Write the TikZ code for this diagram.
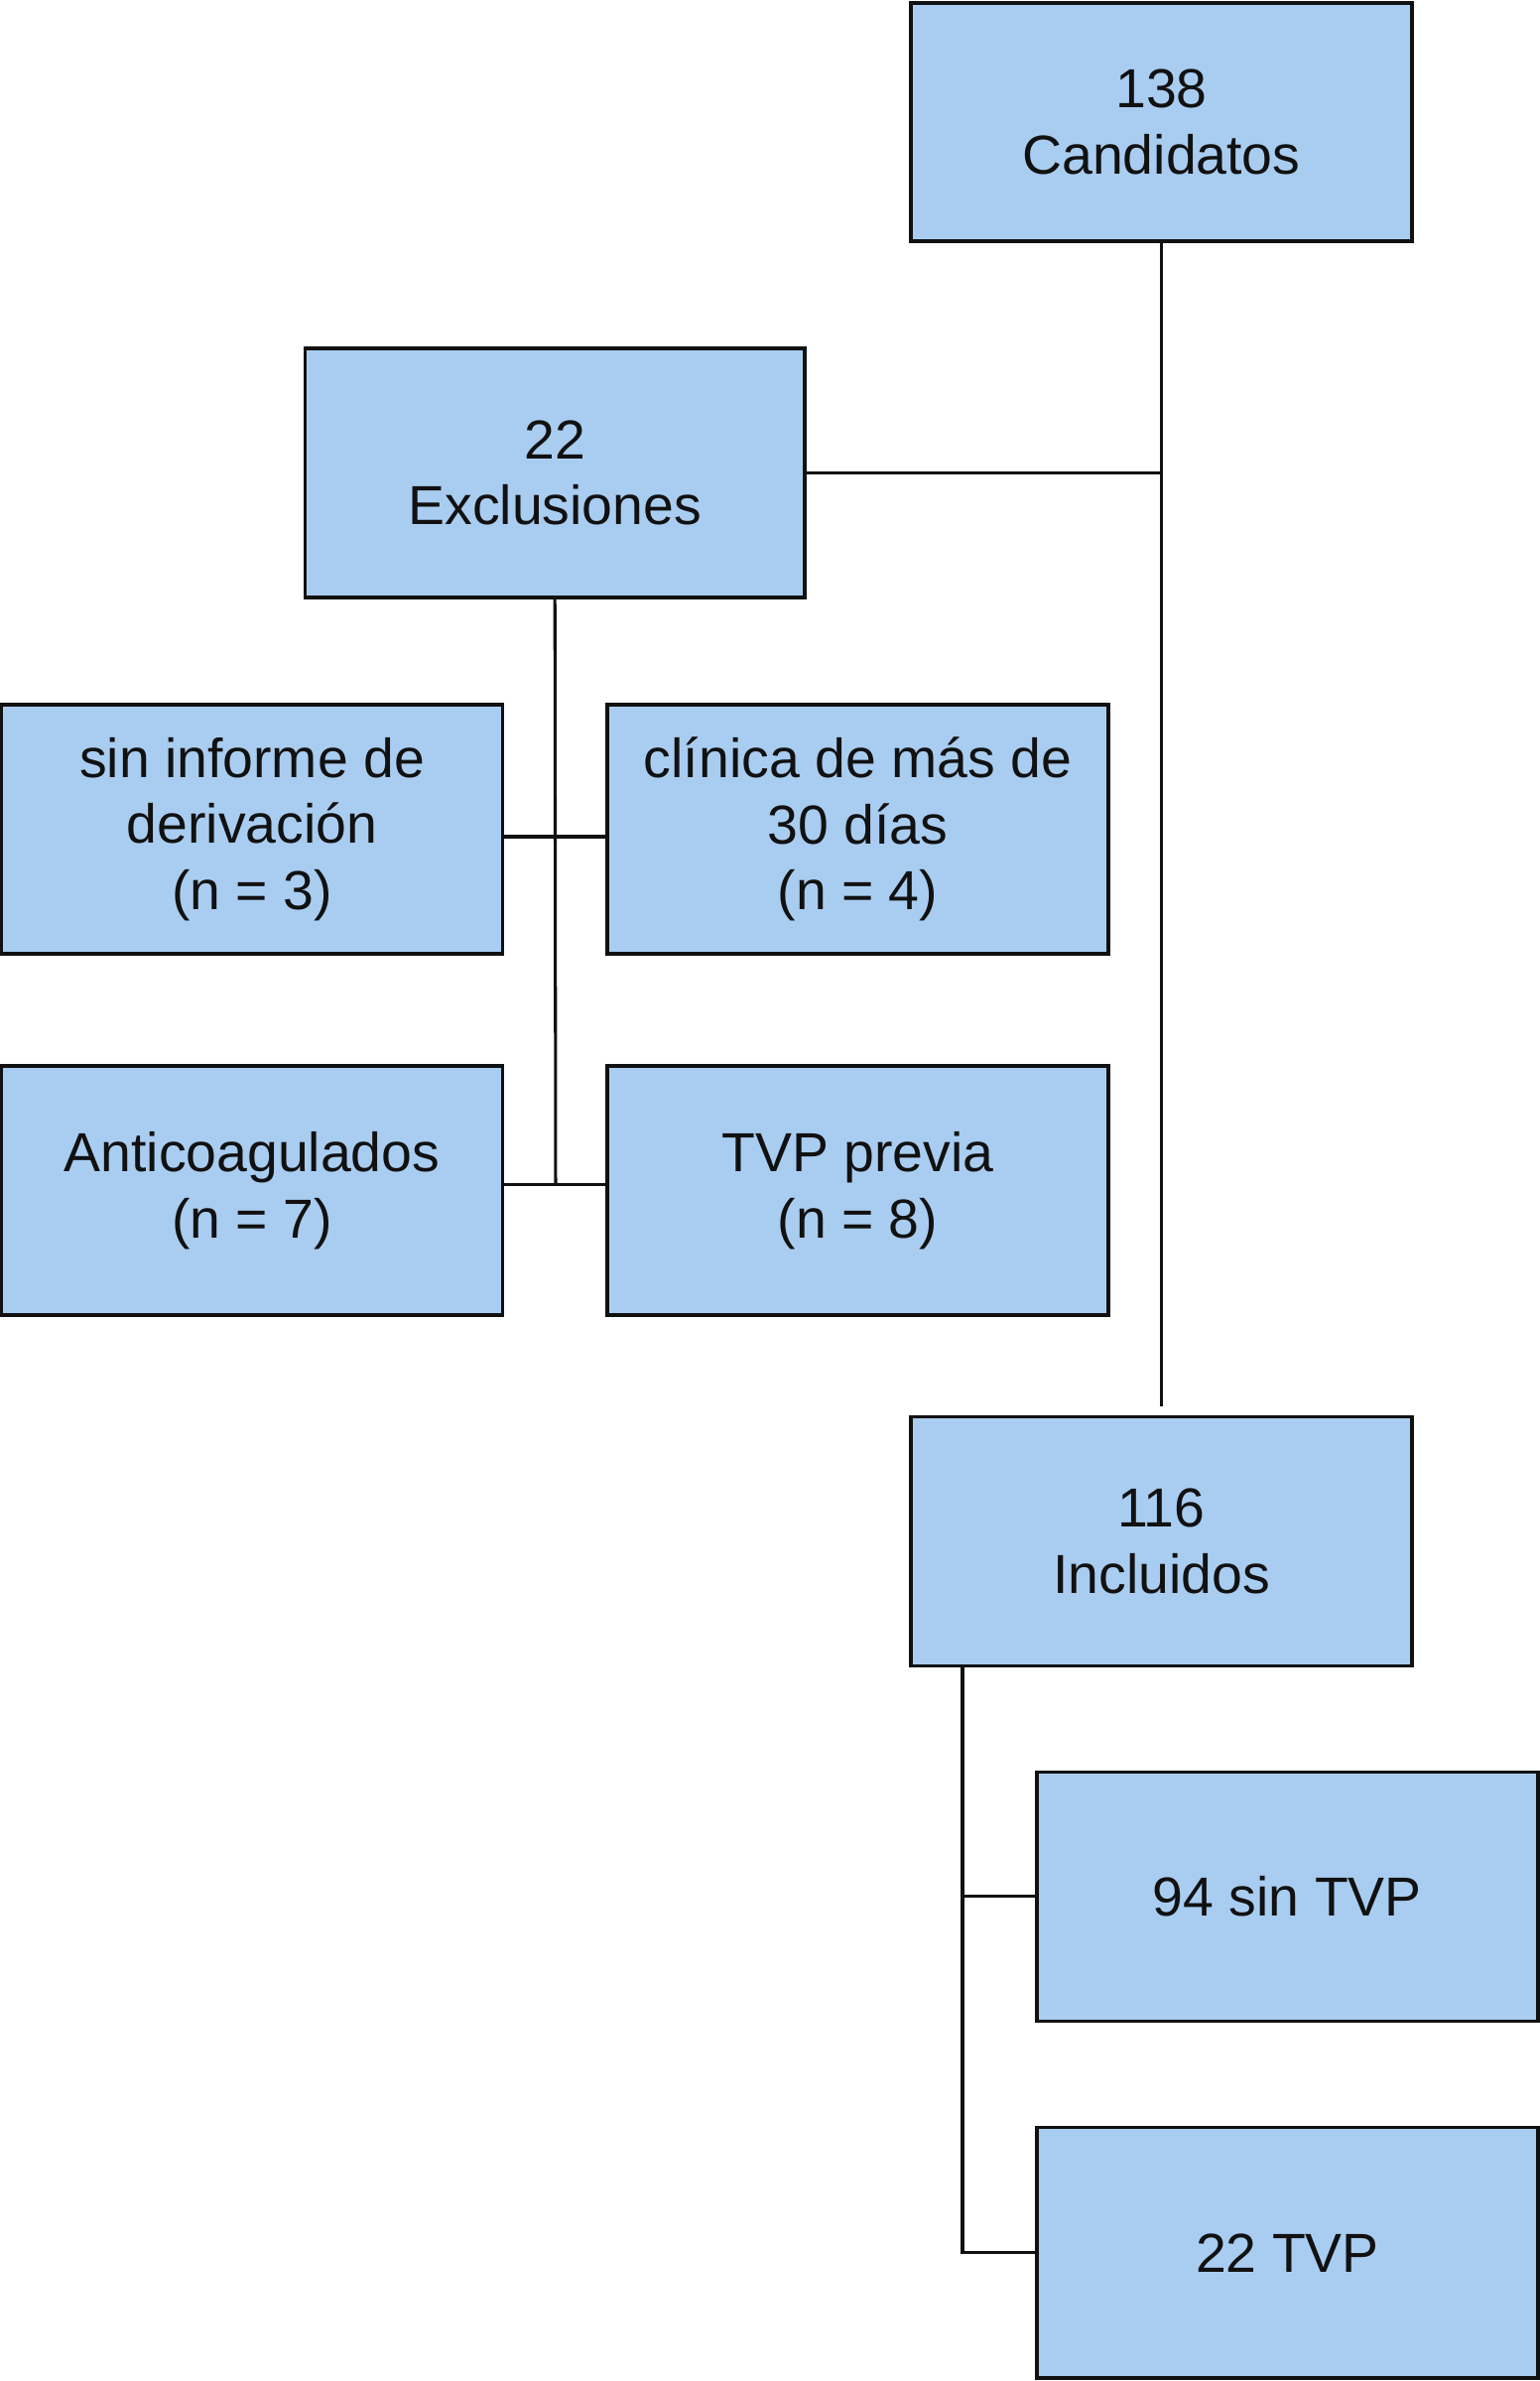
\documentclass[tikz,border=0pt]{standalone}
\usepackage{fontspec}
\setmainfont{Liberation Sans}
\definecolor{boxfill}{HTML}{A9CDF1}
\definecolor{ink}{HTML}{111111}
\begin{document}
\begin{tikzpicture}[x=1pt,y=-1pt,
  box/.style={draw=ink,fill=boxfill,line width=2.4pt,minimum width=330pt,minimum height=164pt,
    align=center,inner sep=0pt,text=ink,font=\fontsize{36.2}{43.5}\selectfont},
  conn/.style={draw=ink,line width=2pt}]
\useasboundingbox (0,0) rectangle (1014,1568);
\node[box,minimum height=157pt] (cand) at (765,80.5) {138\\Candidatos};
\node[box,minimum width=329pt] (excl) at (365.5,311.5) {22\\Exclusiones};
\node[box] (sin) at (166,546) {sin informe de\\derivación\\(n = 3)};
\node[box] (clin) at (565,546) {clínica de más de\\30 días\\(n = 4)};
\node[box] (anti) at (166,784) {Anticoagulados\\(n = 7)};
\node[box] (tvpp) at (565,784) {TVP previa\\(n = 8)};
\node[box] (incl) at (765,1015) {116\\Incluidos};
\node[box] (s94) at (848,1249) {94 sin TVP};
\node[box,minimum height=165pt] (t22) at (848,1483.5) {22 TVP};
\coordinate (gapend) at (765,926);
\coordinate (exclend) at (366,780);
\coordinate (inclx) at (634,1097);
\draw[conn] (cand.south) -- (gapend);
\draw[conn] (excl.east) -- (excl.east -| cand.south);
\draw[conn] (excl.south) -- (exclend);
\draw[conn] (sin.east |- 0,551) -- (clin.west |- 0,551);
\draw[conn] (anti.east |- exclend) -- (tvpp.west |- exclend);
\draw[conn] (inclx) -- (inclx |- t22.west) -- (t22.west);
\draw[conn] (inclx |- s94.west) -- (s94.west);
\end{tikzpicture}
\end{document}
